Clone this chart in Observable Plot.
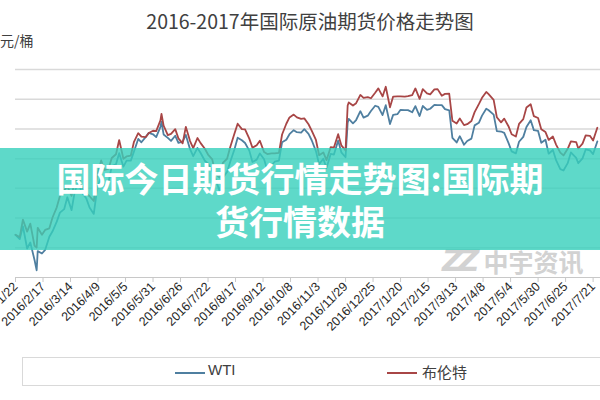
<!DOCTYPE html>
<html><head><meta charset="utf-8">
<script src="https://cdn.jsdelivr.net/npm/d3@7"></script>
<script src="https://cdn.jsdelivr.net/npm/@observablehq/plot@0.6"></script>
<style>
body{margin:0;background:#fff;}
#wrap{position:relative;width:600px;height:400px;overflow:hidden;background:#fff;font-family:"Noto Sans CJK SC","Noto Sans",sans-serif;}
#chart{position:absolute;left:0;top:0;}
#title{position:absolute;top:6px;left:0;width:620px;text-align:center;font-size:19.5px;color:#404040;}
#ylab{position:absolute;left:0px;top:30px;font-size:14px;color:#404040;}
#wm{position:absolute;left:442px;top:244px;color:#d2d2d2;font-weight:700;white-space:nowrap;line-height:28px;}
#wm .z{font-family:"DejaVu Sans";font-style:italic;font-size:30px;letter-spacing:-6px;vertical-align:middle;}
#wm .c{font-size:25px;margin-left:10px;vertical-align:middle;}
#banner{position:absolute;left:0;top:148px;width:600px;height:102px;background:rgba(54,208,188,0.8);}
#btext{position:absolute;left:0;top:156px;width:600px;text-align:center;}
#btext span{display:inline-block;color:#fff;font-weight:700;font-size:34px;line-height:43px;}
#legend{position:absolute;left:22px;top:357px;width:610px;height:29px;border:1px solid #d9d9d9;box-sizing:border-box;}
.sw{position:absolute;top:14px;height:2px;width:30px;}
.lt{position:absolute;top:3px;font-size:15px;color:#404040;}
</style></head>
<body>
<div id="wrap">
  <div id="chart"></div>
  <div id="wm"><span class="z">ZZ</span><span class="c">中宇资讯</span></div>
  <div id="banner"></div>
  <div id="btext"><span>国际今日期货行情走势图:国际期<br>货行情数据</span></div>
  <div id="title">2016-2017年国际原油期货价格走势图</div>
  <div id="ylab">元/桶</div>
  <div id="legend">
    <div class="sw" id="sw1" style="left:152px"></div><div class="lt" style="left:185px;font-family:'Liberation Sans',Arial">WTI</div>
    <div class="sw" id="sw2" style="left:364px"></div><div class="lt" style="left:399px">布伦特</div>
  </div>
</div>
<script>
const seriesNames = ["WTI", "布伦特"];
const seriesColors = ["#4f7fa0", "#a84646"];
const tickLabels = ["2016/1/22","2016/2/17","2016/3/14","2016/4/9","2016/5/5","2016/5/31","2016/6/26","2016/7/22","2016/8/17","2016/9/12","2016/10/8","2016/11/3","2016/11/29","2016/12/25","2017/1/20","2017/2/15","2017/3/13","2017/4/8","2017/5/4","2017/5/30","2017/6/25","2017/7/21"];
const yGrid = [30, 35, 40, 45, 50, 55, 60];
const dates = [
"2016-01-22","2016-01-26","2016-01-29","2016-02-02","2016-02-05","2016-02-09","2016-02-11","2016-02-12","2016-02-16","2016-02-19",
"2016-02-23","2016-02-26","2016-03-01","2016-03-04","2016-03-08","2016-03-11","2016-03-15","2016-03-18","2016-03-22","2016-03-24",
"2016-03-29","2016-04-01","2016-04-05","2016-04-08","2016-04-12","2016-04-15","2016-04-19","2016-04-22","2016-04-26","2016-04-29",
"2016-05-03","2016-05-06","2016-05-10","2016-05-13","2016-05-17","2016-05-20","2016-05-24","2016-05-27","2016-05-31","2016-06-03",
"2016-06-07","2016-06-08","2016-06-10","2016-06-14","2016-06-17","2016-06-21","2016-06-24","2016-06-28","2016-07-01","2016-07-05",
"2016-07-08","2016-07-12","2016-07-15","2016-07-19","2016-07-22","2016-07-26","2016-07-29","2016-08-02","2016-08-05","2016-08-09",
"2016-08-12","2016-08-16","2016-08-19","2016-08-23","2016-08-26","2016-08-30","2016-09-02","2016-09-06","2016-09-09","2016-09-13",
"2016-09-16","2016-09-20","2016-09-23","2016-09-27","2016-09-30","2016-10-04","2016-10-07","2016-10-11","2016-10-14","2016-10-18",
"2016-10-21","2016-10-25","2016-10-28","2016-11-01","2016-11-04","2016-11-08","2016-11-11","2016-11-15","2016-11-18","2016-11-22",
"2016-11-25","2016-11-29","2016-12-01","2016-12-02","2016-12-06","2016-12-09","2016-12-13","2016-12-16","2016-12-20","2016-12-23",
"2016-12-27","2016-12-30","2017-01-03","2017-01-06","2017-01-10","2017-01-13","2017-01-17","2017-01-20","2017-01-24","2017-01-27",
"2017-01-31","2017-02-03","2017-02-07","2017-02-10","2017-02-14","2017-02-17","2017-02-21","2017-02-24","2017-02-28","2017-03-03",
"2017-03-07","2017-03-10","2017-03-14","2017-03-17","2017-03-21","2017-03-24","2017-03-28","2017-03-31","2017-04-04","2017-04-07",
"2017-04-11","2017-04-13","2017-04-18","2017-04-21","2017-04-25","2017-04-28","2017-05-02","2017-05-05","2017-05-09","2017-05-12",
"2017-05-16","2017-05-19","2017-05-23","2017-05-26","2017-05-30","2017-06-02","2017-06-06","2017-06-09","2017-06-13","2017-06-16",
"2017-06-20","2017-06-23","2017-06-27","2017-06-30","2017-07-05","2017-07-07","2017-07-11","2017-07-14","2017-07-18","2017-07-21",
"2017-07-25"];
const wti = [
32.19,31.45,33.62,29.88,30.89,27.94,26.21,29.44,29.04,29.64,
31.87,32.78,34.40,35.92,36.50,38.50,36.34,39.44,41.45,39.46,
38.28,36.79,35.70,39.72,42.17,40.36,41.08,43.73,44.04,45.92,
43.65,44.66,44.66,46.21,48.31,47.75,48.62,49.33,49.10,48.62,
50.36,51.23,49.07,48.49,47.98,48.85,47.64,47.85,48.99,46.60,
45.41,46.80,45.95,44.65,44.19,42.92,41.60,39.51,41.80,42.77,
44.49,46.58,48.52,48.10,47.64,46.35,44.44,44.83,45.88,44.90,
43.03,43.85,44.48,44.67,47.74,48.19,49.11,49.79,49.45,49.39,
49.95,49.16,48.10,46.27,44.07,44.98,43.41,45.81,45.69,48.03,
46.06,45.23,51.06,51.68,50.93,51.50,52.98,51.90,52.23,53.02,
53.90,53.72,52.33,53.99,50.82,52.37,52.48,53.22,53.18,53.17,
52.81,53.83,52.17,53.86,53.20,53.40,54.06,53.99,54.01,53.33,
53.14,48.49,47.72,48.78,47.34,47.97,48.37,50.60,51.03,52.24,
53.40,53.18,52.41,49.62,49.56,49.33,47.66,46.22,45.88,47.84,
48.66,50.33,51.47,49.80,49.66,47.66,48.19,45.83,46.46,44.74,
43.23,43.01,44.24,46.04,45.13,44.23,45.04,46.54,46.40,45.77,
47.89];
const brent = [
32.18,31.80,34.74,32.72,34.06,30.32,30.06,33.36,32.18,33.01,
33.27,35.10,36.81,38.72,39.65,40.39,38.74,41.20,41.79,40.44,
39.14,38.67,37.87,41.94,44.69,43.10,43.33,45.11,45.74,48.13,
44.97,45.37,45.52,47.83,49.28,48.72,48.61,49.32,49.69,49.64,
51.44,52.51,50.54,48.97,49.17,49.96,48.41,47.58,50.35,47.96,
46.76,48.47,47.61,46.66,45.69,44.87,42.46,41.80,44.27,44.98,
46.97,49.23,50.88,49.96,49.92,48.37,46.83,47.26,48.01,46.10,
45.77,45.88,45.89,45.97,49.06,50.87,51.93,52.41,51.95,51.68,
51.78,50.79,49.71,48.14,45.58,46.04,44.75,46.95,46.86,49.12,
47.24,46.38,53.94,54.46,53.93,54.33,55.72,55.21,55.35,55.16,
56.09,56.82,55.47,57.10,53.64,55.45,55.47,55.49,55.44,55.52,
55.70,56.81,55.05,56.70,55.97,55.81,56.66,56.70,55.59,55.90,
55.92,51.37,50.92,51.76,50.64,50.80,51.33,52.83,54.17,55.24,
56.23,55.89,54.89,51.96,51.10,51.73,50.46,49.10,48.73,50.84,
51.65,53.61,54.15,52.15,51.84,49.95,49.47,48.15,48.72,47.37,
46.02,45.54,46.65,47.92,47.79,46.71,47.52,48.91,48.84,48.06,
50.20];

const parseDay = d3.utcParse("%Y-%m-%d");
const parseTick = d3.utcParse("%Y/%m/%d");
const rows = [];
dates.forEach((d, i) => {
  rows.push({date: parseDay(d), value: wti[i], series: seriesNames[0]});
});
dates.forEach((d, i) => {
  rows.push({date: parseDay(d), value: brent[i], series: seriesNames[1]});
});
const ticks = tickLabels.map(parseTick);
const fmt = d => `${d.getUTCFullYear()}/${d.getUTCMonth() + 1}/${d.getUTCDate()}`;

const plot = Plot.plot({
  width: 600,
  height: 335,
  marginLeft: 15,
  marginRight: 0,
  marginTop: 69,
  marginBottom: 58,
  style: {fontFamily: "'Liberation Sans', Arial, sans-serif", background: "transparent"},
  x: {type: "utc", domain: [parseDay("2016-01-22"), parseDay("2017-07-28")]},
  y: {domain: [25, 60], axis: null},
  color: {domain: seriesNames, range: seriesColors},
  marks: [
    Plot.gridY(yGrid, {stroke: "#d9d9d9", strokeOpacity: 1, strokeWidth: 1.5}),
    Plot.ruleY([25], {stroke: "#c8c8c8", strokeWidth: 1}),
    Plot.axisX(ticks, {tickRotate: -45, tickFormat: fmt, tickSize: 5, tickPadding: 2, stroke: "#c8c8c8", fill: "#262626", fontSize: 12.5, label: null}),
    Plot.lineY(rows, {x: "date", y: "value", z: "series", stroke: "series", strokeWidth: 1.8, curve: "linear"})
  ]
});
document.getElementById("chart").appendChild(plot);
document.getElementById("sw1").style.background = seriesColors[0];
document.getElementById("sw2").style.background = seriesColors[1];
</script>
</body></html>
